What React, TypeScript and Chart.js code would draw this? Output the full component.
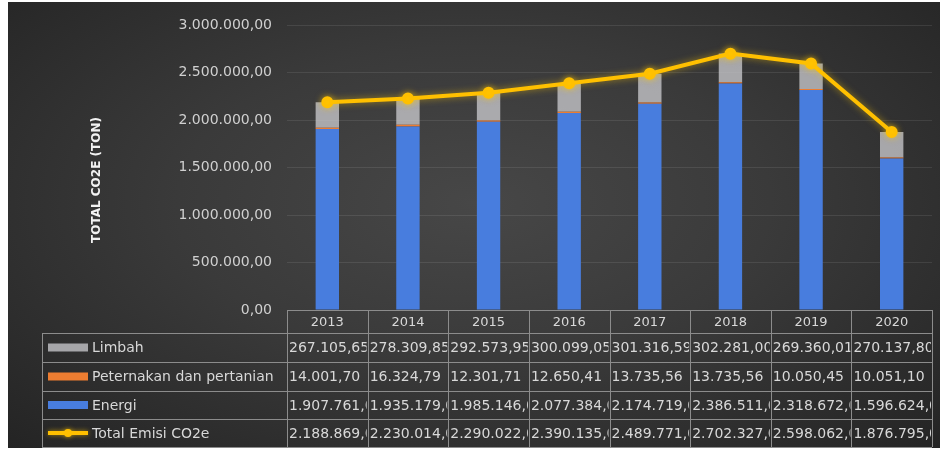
import React, { useEffect, useRef } from "react";
import { Chart, registerables } from "chart.js";

Chart.register(...registerables);

const years = ["2013", "2014", "2015", "2016", "2017", "2018", "2019", "2020"];
const limbah = [267105.65, 278309.85, 292573.95, 300099.05, 301316.59, 302281.0, 269360.01, 270137.8];
const peternakan = [14001.7, 16324.79, 12301.71, 12650.41, 13735.56, 13735.56, 10050.45, 10051.1];
const energi = [1907761, 1935179, 1985146, 2077384, 2174719, 2386511, 2318672, 1596624];
const totalEmisi = [2188869, 2230014, 2290022, 2390135, 2489771, 2702327, 2598062, 1876795];

const yMin = 0;
const yMax = 3000000;
const yStep = 500000;
const yTitle = "TOTAL CO2E (TON)";

const seriesLabels = ["Limbah", "Peternakan dan pertanian", "Energi", "Total Emisi CO2e"];

const FONT = '"DejaVu Sans", sans-serif';
const COL_LIMBAH = "rgba(200,200,204,0.78)";
const COL_PET = "#ED7D31";
const COL_ENERGI = "rgb(72,125,222)";
const COL_TOTAL = "#FFC000";
const TEXT = "#d8d8d8";
const GRIDLINE = "#8c8c8c";

function fmt(v: number): string {
  const [i, d] = v.toFixed(2).split(".");
  return i.replace(/\B(?=(\d{3})+(?!\d))/g, ".") + "," + d;
}

const glowPlugin = {
  id: "glow",
  beforeDatasetDraw(chart: any, args: any) {
    if (chart.data.datasets[args.index].type === "line") {
      chart.ctx.save();
      chart.ctx.shadowColor = "rgba(255,200,0,0.55)";
      chart.ctx.shadowBlur = 7;
    }
  },
  afterDatasetDraw(chart: any, args: any) {
    if (chart.data.datasets[args.index].type === "line") {
      chart.ctx.restore();
    }
  },
};

const tablePlugin = {
  id: "dataTable",
  afterDraw(chart: any) {
    const { ctx, chartArea } = chart;
    const x = chart.scales.x;
    const n = years.length;
    const colW = (chartArea.right - chartArea.left) / n;
    const edges: number[] = [];
    for (let i = 0; i < n; i++) edges.push(x.getPixelForValue(i) - colW / 2);
    edges.push(x.getPixelForValue(n - 1) + colW / 2);
    const tLeft = 34;
    const headerTop = chartArea.bottom;
    const rowsY = [headerTop + 23, headerTop + 52, headerTop + 81, headerTop + 109, headerTop + 137];

    ctx.save();
    // title
    ctx.save();
    ctx.translate(89, 178);
    ctx.rotate(-Math.PI / 2);
    ctx.font = `bold 12px ${FONT}`;
    ctx.fillStyle = "#f2f2f2";
    ctx.textAlign = "center";
    ctx.textBaseline = "middle";
    ctx.fillText(yTitle, 0, 0);
    ctx.restore();

    // grid lines
    ctx.strokeStyle = GRIDLINE;
    ctx.lineWidth = 1;
    ctx.beginPath();
    ctx.moveTo(edges[0], Math.round(headerTop) + 0.5);
    ctx.lineTo(edges[n], Math.round(headerTop) + 0.5);
    for (const ry of rowsY) {
      ctx.moveTo(tLeft, Math.round(ry) + 0.5);
      ctx.lineTo(edges[n], Math.round(ry) + 0.5);
    }
    for (let i = 0; i <= n; i++) {
      const ex = Math.round(edges[i]) + 0.5;
      ctx.moveTo(ex, headerTop);
      ctx.lineTo(ex, rowsY[4]);
    }
    ctx.moveTo(tLeft + 0.5, rowsY[0]);
    ctx.lineTo(tLeft + 0.5, rowsY[4]);
    ctx.stroke();

    // header years
    ctx.fillStyle = TEXT;
    ctx.textBaseline = "middle";
    ctx.font = `13px ${FONT}`;
    ctx.textAlign = "center";
    for (let i = 0; i < n; i++) {
      ctx.fillText(x.getLabelForValue(i), x.getPixelForValue(i), (headerTop + rowsY[0]) / 2 + 1);
    }

    const rows = [limbah, peternakan, energi, totalEmisi];
    const colors = [COL_LIMBAH, COL_PET, COL_ENERGI, COL_TOTAL];
    for (let r = 0; r < 4; r++) {
      const top = rowsY[r];
      const bot = rowsY[r + 1];
      const cy = (top + bot) / 2;
      if (r < 3) {
        ctx.fillStyle = colors[r];
        ctx.fillRect(40, cy - 4, 40, 8);
      } else {
        ctx.save();
        ctx.shadowColor = "rgba(255,200,0,0.6)";
        ctx.shadowBlur = 5;
        ctx.strokeStyle = COL_TOTAL;
        ctx.lineWidth = 4;
        ctx.beginPath();
        ctx.moveTo(40, cy);
        ctx.lineTo(80, cy);
        ctx.stroke();
        ctx.fillStyle = COL_TOTAL;
        ctx.beginPath();
        ctx.arc(60, cy, 4, 0, Math.PI * 2);
        ctx.fill();
        ctx.restore();
      }
      ctx.fillStyle = TEXT;
      ctx.font = `14px ${FONT}`;
      ctx.textAlign = "left";
      ctx.fillText(seriesLabels[r], 84, cy + 1);
      for (let i = 0; i < n; i++) {
        ctx.save();
        ctx.beginPath();
        ctx.rect(edges[i] + 1, top, edges[i + 1] - edges[i] - 2, bot - top);
        ctx.clip();
        ctx.fillStyle = TEXT;
        ctx.fillText(fmt(rows[r][i]), edges[i] + 2, cy + 1);
        ctx.restore();
      }
    }
    ctx.restore();
  },
};

export default function App() {
  const ref = useRef<HTMLCanvasElement | null>(null);
  useEffect(() => {
    if (!ref.current) return;
    const chart = new Chart(ref.current, {
      type: "bar",
      data: {
        labels: years,
        datasets: [
          {
            type: "line",
            label: seriesLabels[3],
            data: totalEmisi,
            borderColor: COL_TOTAL,
            backgroundColor: COL_TOTAL,
            borderWidth: 4,
            pointRadius: 4,
            pointBackgroundColor: COL_TOTAL,
            pointBorderColor: COL_TOTAL,
            stack: "total",
            order: 0,
            tension: 0,
          } as any,
          {
            type: "bar",
            label: seriesLabels[2],
            data: energi,
            backgroundColor: COL_ENERGI,
            stack: "emisi",
            order: 1,
          },
          {
            type: "bar",
            label: seriesLabels[1],
            data: peternakan,
            backgroundColor: COL_PET,
            stack: "emisi",
            order: 1,
          },
          {
            type: "bar",
            label: seriesLabels[0],
            data: limbah,
            backgroundColor: COL_LIMBAH,
            stack: "emisi",
            order: 1,
          },
        ],
      },
      options: {
        animation: false,
        responsive: true,
        maintainAspectRatio: false,
        layout: { padding: { top: 15, right: 8, bottom: 138, left: 0 } },
        datasets: { bar: { barPercentage: 0.29, categoryPercentage: 1 } },
        plugins: { legend: { display: false }, tooltip: { enabled: false } },
        scales: {
          x: {
            display: false,
            stacked: true,
            offset: true,
            grid: { display: false },
          },
          y: {
            stacked: true,
            min: yMin,
            max: yMax,
            afterFit: (scale: any) => {
              scale.width = 279;
            },
            ticks: {
              stepSize: yStep,
              padding: 15,
              color: "#d0d0d0",
              font: { family: FONT, size: 14 },
              callback: (v: any) => fmt(Number(v)),
            },
            grid: { color: "rgba(255,255,255,0.09)", drawTicks: false },
            border: { display: false },
          },
        },
      },
      plugins: [glowPlugin, tablePlugin],
    });
    return () => chart.destroy();
  }, []);

  return (
    <div
      style={{
        position: "fixed",
        left: 8,
        top: 2,
        width: 932,
        height: 446,
        background: "radial-gradient(ellipse at 50% 45%, #474747 0%, #3a3a3a 45%, #2a2a2a 85%, #242424 100%)",
      }}
    >
      <canvas ref={ref} />
    </div>
  );
}
